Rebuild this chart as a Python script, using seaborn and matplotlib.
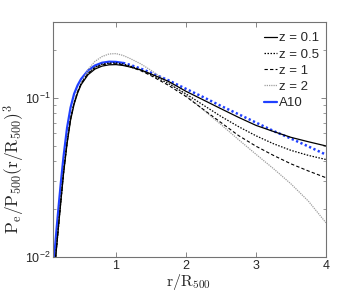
import numpy as np
import pandas as pd
import matplotlib
matplotlib.use("Agg")
import matplotlib.pyplot as plt
import seaborn as sns
from matplotlib.ticker import LogLocator, FixedLocator, FixedFormatter, NullFormatter
from matplotlib.lines import Line2D

# ---- data ----
x_z01 = [0.13, 0.15, 0.18, 0.21, 0.25, 0.30, 0.35, 0.40, 0.45, 0.50, 0.60, 0.70, 0.80, 0.90, 1.00,
         1.10, 1.20, 1.35, 1.50, 1.75, 2.00, 2.25, 2.50, 2.75, 3.00, 3.25, 3.50, 3.75, 4.00]
y_z01 = [0.0092, 0.0115, 0.0160, 0.0220, 0.0335, 0.0515, 0.0725, 0.0910, 0.1070, 0.1210, 0.1400, 0.1520, 0.1585, 0.1615, 0.1620,
         0.1600, 0.1565, 0.1500, 0.1415, 0.1270, 0.1100, 0.0970, 0.0855, 0.0755, 0.0672, 0.0615, 0.0565, 0.0530, 0.0499]

x_z05 = [0.13, 0.15, 0.18, 0.21, 0.25, 0.30, 0.35, 0.40, 0.45, 0.50, 0.60, 0.70, 0.80, 0.90, 1.00,
         1.10, 1.20, 1.35, 1.50, 1.75, 2.00, 2.25, 2.50, 2.75, 3.00, 3.25, 3.50, 3.75, 4.00]
y_z05 = [0.0092, 0.0115, 0.0160, 0.0222, 0.0340, 0.0525, 0.0740, 0.0930, 0.1090, 0.1230, 0.1430, 0.1560, 0.1630, 0.1655, 0.1660,
         0.1635, 0.1590, 0.1505, 0.1400, 0.1230, 0.1060, 0.0900, 0.0765, 0.0660, 0.0578, 0.0515, 0.0468, 0.0435, 0.0410]

x_z1 = [0.13, 0.15, 0.18, 0.21, 0.25, 0.30, 0.35, 0.40, 0.45, 0.50, 0.60, 0.70, 0.80, 0.90, 1.00,
        1.10, 1.20, 1.35, 1.50, 1.75, 2.00, 2.25, 2.50, 2.75, 3.00, 3.25, 3.50, 3.75, 4.00]
y_z1 = [0.0092, 0.0115, 0.0160, 0.0222, 0.0340, 0.0525, 0.0740, 0.0930, 0.1090, 0.1230, 0.1425, 0.1550, 0.1615, 0.1640, 0.1640,
        0.1615, 0.1570, 0.1485, 0.1380, 0.1200, 0.1020, 0.0845, 0.0700, 0.0580, 0.0497, 0.0435, 0.0385, 0.0347, 0.0315]

x_z2 = [0.13, 0.15, 0.18, 0.21, 0.25, 0.30, 0.35, 0.40, 0.45, 0.50, 0.60, 0.70, 0.80, 0.90, 1.00,
        1.10, 1.20, 1.35, 1.50, 1.75, 2.00, 2.25, 2.50, 2.75, 3.00, 3.25, 3.50, 3.75, 4.00]
y_z2 = [0.0092, 0.0115, 0.0160, 0.0222, 0.0340, 0.0525, 0.0740, 0.0930, 0.1090, 0.1235, 0.1510, 0.1700, 0.1820, 0.1890, 0.1900,
        0.1850, 0.1770, 0.1640, 0.1490, 0.1250, 0.1040, 0.0840, 0.0680, 0.0547, 0.0442, 0.0359, 0.0288, 0.0224, 0.0164]

x_a10 = [0.11, 0.13, 0.15, 0.18, 0.21, 0.25, 0.30, 0.35, 0.40, 0.45, 0.50, 0.60, 0.70, 0.80, 0.90, 1.00,
         1.10, 1.20, 1.35, 1.50, 1.75, 2.00, 2.25, 2.50, 2.75, 3.00, 3.25, 3.50, 3.75, 4.00]
y_a10 = [0.0093, 0.0118, 0.0150, 0.0210, 0.0290, 0.0430, 0.0650, 0.0870, 0.1060, 0.1200, 0.1315, 0.1490, 0.1600, 0.1665, 0.1690, 0.1685,
         0.1660, 0.1615, 0.1530, 0.1440, 0.1290, 0.1140, 0.1010, 0.0890, 0.0790, 0.0700, 0.0620, 0.0555, 0.0495, 0.0440]

labels = ["z = 0.1", "z = 0.5", "z = 1", "z = 2", "A10"]
x_ticks = [1, 2, 3, 4]
x_tick_labels = ["1", "2", "3", "4"]
y_ticks = [0.01, 0.1]
y_tick_labels = [r"$\mathregular{10^{-2}}$", r"$\mathregular{10^{-1}}$"]

# ---- style ----
sns.set_style("ticks")
plt.rcParams["font.family"] = ["Liberation Sans", "DejaVu Sans"]
plt.rcParams["mathtext.fontset"] = "cm"

fig = plt.figure(figsize=(3.61, 2.94), dpi=100)
ax = fig.add_axes([0.147, 0.126, 0.756, 0.799])

styles = [
    dict(color="black", linestyle="-", linewidth=0.9),
    dict(color="black", linestyle=(0, (1.2, 1.2)), linewidth=0.9),
    dict(color="black", linestyle=(0, (3, 2)), linewidth=0.8),
    dict(color="0.62", linestyle=(0, (1, 0.8)), linewidth=0.9),
]

# A10: blue
xa = np.array(x_a10)
ya = np.array(y_a10)
m1 = xa <= 1.1
m2 = xa >= 1.1
sns.lineplot(x=xa[m1], y=ya[m1], ax=ax, color="#2040ff", linewidth=1.6, sort=False)
sns.lineplot(x=xa[m2], y=ya[m2], ax=ax, color="#2040ff", linewidth=1.8,
             linestyle=(0, (0.9, 1.0)), sort=False)

for (xs, ys), st in zip([(x_z2, y_z2), (x_z1, y_z1), (x_z05, y_z05), (x_z01, y_z01)],
                        [styles[3], styles[2], styles[1], styles[0]]):
    sns.lineplot(x=xs, y=ys, ax=ax, sort=False, **st)

ax.set_yscale("log")
ax.set_xlim(0.1, 4)
ax.set_ylim(0.01, 0.3)

ax.xaxis.set_major_locator(FixedLocator(x_ticks))
ax.xaxis.set_major_formatter(FixedFormatter(x_tick_labels))
ax.yaxis.set_major_locator(FixedLocator(y_ticks))
ax.yaxis.set_major_formatter(FixedFormatter(y_tick_labels))
ax.yaxis.set_minor_locator(LogLocator(base=10, subs=np.arange(2, 10)))
ax.yaxis.set_minor_formatter(NullFormatter())

for s in ax.spines.values():
    s.set_visible(True)
    s.set_color("0.45")
    s.set_linewidth(0.8)
ax.tick_params(which="both", direction="in", top=True, right=True, color="0.45",
               labelsize=9, pad=2)
ax.tick_params(which="major", length=3.5, width=0.6)
ax.tick_params(which="minor", length=2, width=0.5)

ax.set_xlabel(r"$\mathrm{r/R_{500}}$", fontsize=11.5)
ax.set_ylabel(r"$\mathrm{P_e/P_{500}(r/R_{500})^3}$", fontsize=12.5)
ax.xaxis.set_label_coords(0.495, -0.066)
ax.yaxis.set_label_coords(-0.094, 0.375)

handles = [
    Line2D([], [], **styles[0]),
    Line2D([], [], **styles[1]),
    Line2D([], [], **styles[2]),
    Line2D([], [], **styles[3]),
    Line2D([], [], color="#2040ff", linewidth=1.6),
]
ax.legend(handles, labels, loc="upper right", frameon=False, fontsize=9.5,
          handlelength=1.0, handletextpad=0.15, labelspacing=0.3,
          borderaxespad=0.1, bbox_to_anchor=(1.0, 0.985))

fig.savefig("out.png", dpi=100)
